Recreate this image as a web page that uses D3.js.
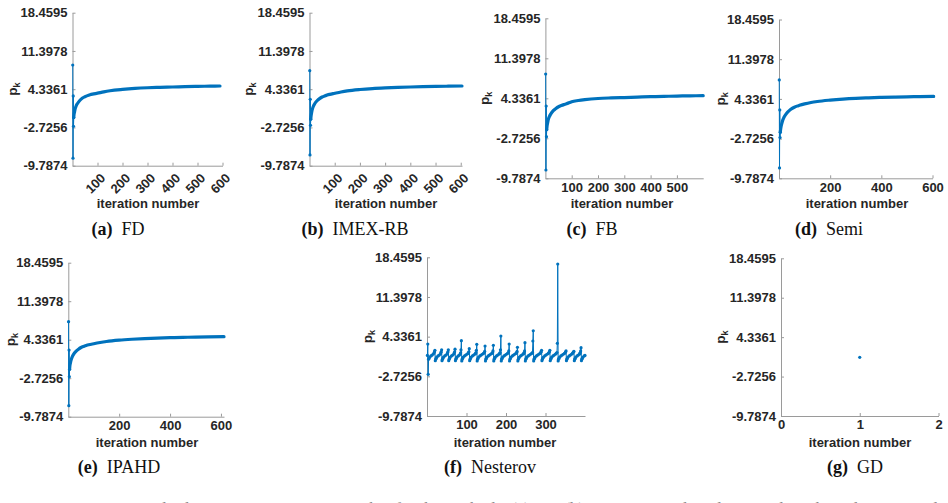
<!DOCTYPE html>
<html><head><meta charset="utf-8">
<script src="https://cdn.jsdelivr.net/npm/d3@7"></script>
<style>body{margin:0;background:#fff;overflow:hidden}</style>
</head><body>
<svg id="c" width="948" height="503"></svg>
<script>
// ---------- data ----------
const yTickValues = [-9.7874, -2.7256, 4.3361, 11.3978, 18.4595];
const yTickLabels = ["-9.7874", "-2.7256", "4.3361", "11.3978", "18.4595"];
const captionTags = ["(a)", "(b)", "(c)", "(d)", "(e)", "(f)", "(g)"];
const captionNames = ["FD", "IMEX-RB", "FB", "Semi", "IPAHD", "Nesterov", "GD"];
const xTicksA = [100, 200, 300, 400, 500, 600];
const xTicksB = [100, 200, 300, 400, 500, 600];
const xTicksC = [100, 200, 300, 400, 500];
const xTicksD = [200, 400, 600];
const xTicksE = [200, 400, 600];
const xTicksF = [100, 200, 300];
const xTicksG = [0, 1, 2];

const fdIter = [1,2,3,4,5,6,8,10,15,20,30,40,50,60,70,80,100,125,150,200,250,300,350,400,450,500,550,590];
const fdVal  = [8.8,-8.4,3.1,-2.5,-0.9,-0.4,0.1,0.6,1.3,1.7,2.3,2.7,2.95,3.15,3.3,3.42,3.6,3.85,4.05,4.3,4.48,4.6,4.68,4.74,4.8,4.86,4.9,4.93];

const imexIter = [1,2,3,4,5,6,8,10,15,20,30,40,50,60,70,80,100,125,150,200,250,300,350,400,450,500,550,605];
const imexVal  = [7.75,-7.8,2.47,-2.33,-1.2,-0.7,-0.1,0.4,1.15,1.6,2.2,2.6,2.9,3.1,3.25,3.38,3.58,3.82,4.02,4.28,4.46,4.58,4.67,4.74,4.8,4.85,4.89,4.93];

const fbIter = [1,2,3,4,5,6,8,10,15,20,30,40,50,60,70,80,100,125,150,200,250,300,350,400,450,500,550,600];
const fbVal  = [8.63,-8.32,2.98,-2.44,-1.2,-0.68,-0.1,0.4,1.1,1.55,2.15,2.55,2.85,3.05,3.22,3.36,3.74,3.95,4.1,4.3,4.4,4.47,4.55,4.62,4.68,4.73,4.77,4.8];

const semiIter = [1,2,3,4,5,6,8,10,15,20,30,40,50,60,70,80,100,125,150,200,250,300,350,400,450,500,550,605];
const semiVal  = [7.72,-7.95,2.38,-2.54,-1.6,-1.2,-0.6,-0.2,0.6,1.1,1.8,2.25,2.6,2.85,3.05,3.2,3.45,3.7,3.88,4.12,4.3,4.43,4.52,4.6,4.66,4.71,4.74,4.77];

const ipahdIter = [1,2,3,4,5,6,8,10,15,20,30,40,50,60,70,80,100,125,150,200,250,300,350,400,450,500,550,612];
const ipahdVal  = [7.64,-7.77,2.44,-2.45,-1.1,-0.55,0.0,0.45,1.15,1.6,2.2,2.6,2.9,3.1,3.26,3.4,3.6,3.82,4.0,4.25,4.42,4.55,4.64,4.7,4.76,4.81,4.85,4.89];

const nestIter = [
 1,2,3,4,5,7,10,13,16,18,19,
 20,21,22,23,25,28,31,34,35,36,
 37,38,39,40,42,45,48,51,52,53,
 54,55,56,57,59,62,65,68,69,70,
 71,72,73,74,76,79,82,84,85,86,
 87,88,89,90,92,95,98,101,104,105,106,
 107,108,109,110,112,115,118,121,123,124,125,
 126,127,128,129,131,134,137,140,143,145,146,
 147,148,149,150,152,155,158,161,164,166,167,
 168,169,170,171,173,176,179,182,184,185,186,
 187,188,189,190,192,195,198,201,204,206,207,
 208,209,210,211,213,216,219,222,225,227,228,
 229,230,231,232,234,237,240,243,245,246,247,
 248,249,250,251,253,256,259,262,265,267,268,
 269,270,271,272,274,277,280,283,286,288,289,
 290,291,292,293,295,298,301,304,307,309,310,
 311,312,313,314,316,319,322,325,327,329,330,
 331,332,333,334,336,339,342,345,348,350,351,
 352,353,354,355,357,360,363,366,368,370,371,
 372,373,374,375,377,380,383,386,387,388,389,
 390,391,392,393,395,398,400];
const nestVal = [
 1.0,3.03,-2.37,0.3,0.5,0.7,0.9,1.05,1.25,1.45,1.65,
 1.9,0.05,0.3,0.5,0.7,0.9,1.05,1.25,1.45,1.65,
 2.0,0.05,0.3,0.5,0.7,0.9,1.05,1.25,1.45,1.65,
 2.0,0.05,0.3,0.5,0.7,0.9,1.05,1.25,1.45,1.65,
 2.1,0.05,0.3,0.5,0.7,0.9,1.05,1.25,1.45,2.0,
 3.62,0.0,0.3,0.5,0.7,0.9,1.05,1.2,1.35,1.5,1.65,
 2.2,0.05,0.3,0.5,0.7,0.9,1.05,1.2,1.35,1.5,1.9,
 2.97,0.0,0.3,0.5,0.7,0.9,1.05,1.2,1.35,1.5,1.7,
 2.67,0.0,0.3,0.5,0.7,0.9,1.05,1.2,1.35,1.5,1.8,
 2.8,0.0,0.3,0.5,0.7,0.9,1.05,1.2,1.35,1.5,2.0,
 4.45,0.0,0.3,0.5,0.7,0.9,1.05,1.2,1.35,1.5,1.8,
 3.03,0.0,0.3,0.5,0.7,0.9,1.05,1.2,1.35,1.5,1.7,
 2.44,0.0,0.3,0.5,0.7,0.9,1.05,1.2,1.35,1.5,1.8,
 3.26,0.0,0.3,0.5,0.7,0.9,1.05,1.2,1.35,1.5,3.56,
 5.39,0.0,0.3,0.5,0.7,0.9,1.05,1.2,1.35,1.5,1.65,
 1.9,0.05,0.3,0.5,0.7,0.9,1.05,1.2,1.35,1.5,1.65,
 1.9,0.05,0.3,0.5,0.7,0.9,1.05,1.2,1.35,1.5,3.15,
 17.27,0.0,0.3,0.5,0.7,0.9,1.05,1.2,1.35,1.5,1.65,
 1.8,0.05,0.3,0.5,0.7,0.9,1.05,1.2,1.35,1.5,1.65,
 1.7,0.05,0.3,0.5,0.7,0.9,1.05,1.2,1.35,1.5,1.8,
 2.37,0.05,0.3,0.5,0.7,0.9,1.0];

const gdIter = [1];
const gdVal = [0.73];

// ---------- layout ----------
const BLUE = "#0072BD";
const AXIS = "#9a9a9a";
const TXT = "#262626";
const svg = d3.select("#c");

const panels = [
  {iters: fdIter, vals: fdVal, ticks: xTicksA, xd:[0,600], l:72.5, r:222.5, t:12.7, b:165.7, rot:true, ylx:12, xlx:148, xly:208, capx:118, capy:235, dense:4},
  {iters: imexIter, vals: imexVal, ticks: xTicksB, xd:[0,605], l:309.5, r:462, t:12.7, b:165.7, rot:true, ylx:248, xlx:386, xly:208, capx:355, capy:235, dense:4},
  {iters: fbIter, vals: fbVal, ticks: xTicksC, xd:[0,600], l:545.4, r:703.2, t:18.3, b:178.3, rot:false, ylx:484, xlx:622, xly:208, capx:592, capy:235, dense:4},
  {iters: semiIter, vals: semiVal, ticks: xTicksD, xd:[0,600], l:779, r:932.5, t:19.5, b:178.3, rot:false, ylx:720, xlx:857, xly:208, capx:829, capy:235, dense:4},
  {iters: ipahdIter, vals: ipahdVal, ticks: xTicksE, xd:[0,612], l:68.3, r:224, t:262.7, b:416.7, rot:false, ylx:10.5, xlx:147, xly:446.5, capx:119, capy:473, dense:4},
  {iters: nestIter, vals: nestVal, ticks: xTicksF, xd:[0,400], l:427, r:585, t:257.3, b:416, rot:false, ylx:367, xlx:505, xly:446.5, capx:490, capy:473, dense:-1},
  {iters: gdIter, vals: gdVal, ticks: xTicksG, xd:[0,2], l:781, r:938.5, t:258.3, b:416, rot:false, ylx:720.5, xlx:860, xly:446.5, capx:855, capy:473, dense:-1}
];

panels.forEach((p, i) => {
  const g = svg.append("g");
  const x = d3.scaleLinear().domain(p.xd).range([p.l, p.r]);
  const y = d3.scaleLinear().domain([yTickValues[0], yTickValues[4]]).range([p.b, p.t]);

  const ya = d3.axisLeft(y).tickValues(yTickValues).tickFormat((d, k) => yTickLabels[k])
    .tickSizeInner(-3).tickSizeOuter(0).tickPadding(5);
  const ga = g.append("g").attr("transform", `translate(${p.l},0)`).call(ya);

  const xa = d3.axisBottom(x).tickValues(p.ticks).tickFormat(d3.format("d"))
    .tickSizeInner(-3).tickSizeOuter(0).tickPadding(4);
  const gx = g.append("g").attr("transform", `translate(0,${p.b})`).call(xa);

  [ga, gx].forEach(a => {
    a.select(".domain").attr("stroke", AXIS).attr("stroke-width", 1);
    a.selectAll(".tick line").attr("stroke", AXIS);
    a.selectAll("text").attr("fill", TXT).style("font", "bold 13px 'Liberation Sans', Arial, sans-serif");
  });
  if (p.rot) {
    gx.selectAll(".tick text").attr("y", 0).attr("dy", "0.35em")
      .attr("text-anchor", "end").attr("transform", "translate(5,10) rotate(-45)");
  }

  // y label p_k
  const yl = g.append("text").attr("transform", `translate(${p.ylx},${(p.t + p.b) / 2}) rotate(-90)`)
    .attr("text-anchor", "middle").attr("dy", "0.35em").attr("fill", TXT)
    .style("font", "bold 13.5px 'Liberation Sans', Arial, sans-serif");
  yl.append("tspan").text("p");
  yl.append("tspan").text("k").attr("font-size", "9px").attr("dy", "3");

  // x label
  g.append("text").attr("x", p.xlx).attr("y", p.xly).attr("text-anchor", "middle").attr("fill", TXT)
    .style("font", "bold 13px 'Liberation Sans', Arial, sans-serif").text("iteration number");

  // caption
  const cap = g.append("text").attr("x", p.capx).attr("y", p.capy).attr("text-anchor", "middle")
    .attr("fill", "#111").style("font", "18px 'Liberation Serif', 'Times New Roman', serif");
  cap.append("tspan").attr("font-weight", "bold").text(captionTags[i]);
  cap.append("tspan").text("\u2002" + captionNames[i]);

  // data
  const data = p.iters.map((it, k) => ({it, v: p.vals[k]}));
  const clipId = "clip" + i;
  svg.append("clipPath").attr("id", clipId).append("rect")
    .attr("x", p.l - 5).attr("y", p.t - 10).attr("width", p.r - p.l + 8).attr("height", p.b - p.t + 20);
  const dg = g.append("g").attr("clip-path", `url(#${clipId})`);
  const line = d3.line().x(d => x(d.it)).y(d => y(d.v));
  dg.append("path").datum(data).attr("d", line).attr("fill", "none").attr("stroke", BLUE).attr("stroke-width", 1);
  if (p.dense >= 0) {
    const smooth = d3.line().x(d => x(d.it)).y(d => y(d.v)).curve(d3.curveMonotoneX);
    dg.append("path").datum(data.slice(p.dense)).attr("d", smooth).attr("fill", "none")
      .attr("stroke", BLUE).attr("stroke-width", 3.2).attr("stroke-linecap", "round");
    dg.selectAll("circle").data(data.slice(0, p.dense + 1)).join("circle")
      .attr("cx", d => x(d.it)).attr("cy", d => y(d.v)).attr("r", 1.6).attr("fill", BLUE);
  } else {
    dg.selectAll("circle").data(data).join("circle")
      .attr("cx", d => x(d.it)).attr("cy", d => y(d.v)).attr("r", 1.6).attr("fill", BLUE);
  }
});

// figure caption, cut by the bottom edge as in the reference
svg.append("text").attr("x", 6).attr("y", 514).attr("fill", "#8a8a8a")
  .style("font", "17px 'Liberation Serif', serif")
  .text("Figure 4:  Lagrange multiplier p\u2096 versus iteration number for the methods: (a) FD, (b) IMEX-RB, Filtered Forward-Backward, Semi-implicit");
</script>
</body></html>
